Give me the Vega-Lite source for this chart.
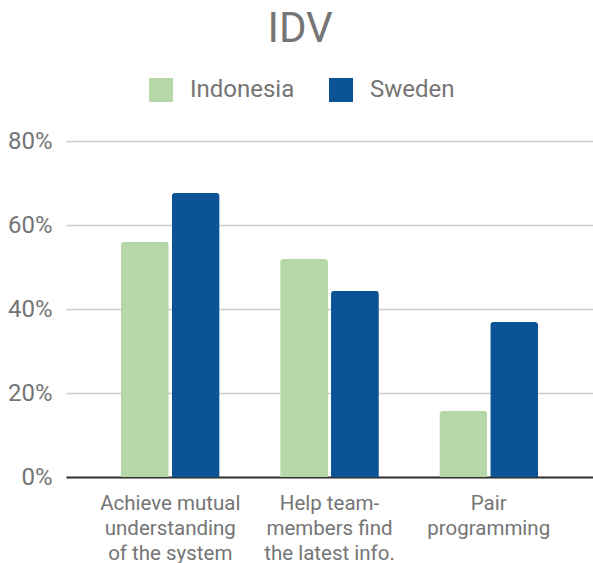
{
  "$schema": "https://vega.github.io/schema/vega-lite/v6.json",
  "width": 527,
  "height": 336,
  "autosize": {"type": "none"},
  "padding": {"left": 66, "top": 141, "right": 0, "bottom": 86},
  "background": "white",
  "title": {
    "text": "IDV",
    "font": "Roboto",
    "fontSize": 42,
    "fontWeight": "normal",
    "color": "#757575",
    "anchor": "middle",
    "frame": "bounds",
    "offset": 27
  },
  "data": {
    "values": [
      {"category": "Achieve mutual|understanding|of the system", "country": "Indonesia", "value": 0.56},
      {"category": "Achieve mutual|understanding|of the system", "country": "Sweden", "value": 0.676},
      {"category": "Help team-|members find|the latest info.", "country": "Indonesia", "value": 0.519},
      {"category": "Help team-|members find|the latest info.", "country": "Sweden", "value": 0.443},
      {"category": "Pair|programming", "country": "Indonesia", "value": 0.157},
      {"category": "Pair|programming", "country": "Sweden", "value": 0.369}
    ]
  },
  "mark": {"type": "bar", "cornerRadiusTopLeft": 3, "cornerRadiusTopRight": 3},
  "encoding": {
    "x": {
      "field": "category",
      "type": "nominal",
      "sort": null,
      "scale": {"paddingInner": 0.38, "paddingOuter": 0.345},
      "axis": {
        "title": null,
        "labelAngle": 0,
        "labelExpr": "split(datum.label, '|')",
        "labelFont": "Roboto",
        "labelFontSize": 20.5,
        "labelLineHeight": 25,
        "labelColor": "#757575",
        "labelPadding": 16,
        "ticks": false,
        "domainColor": "#333333",
        "domainWidth": 2,
        "labelLimit": 300
      }
    },
    "xOffset": {
      "field": "country",
      "type": "nominal",
      "scale": {"paddingInner": 0.06, "paddingOuter": 0}
    },
    "y": {
      "field": "value",
      "type": "quantitative",
      "scale": {"domain": [0, 0.8]},
      "axis": {
        "title": null,
        "format": ".0%",
        "values": [0, 0.2, 0.4, 0.6, 0.8],
        "labelFont": "Roboto",
        "labelFontSize": 24,
        "labelColor": "#757575",
        "labelPadding": 14,
        "ticks": false,
        "domain": false,
        "gridColor": "#cccccc",
        "gridWidth": 1.5
      }
    },
    "color": {
      "field": "country",
      "type": "nominal",
      "scale": {"domain": ["Indonesia", "Sweden"], "range": ["#b6d7a8", "#0b5394"]},
      "legend": {
        "title": null,
        "orient": "none",
        "direction": "horizontal",
        "legendX": 83,
        "legendY": -63,
        "symbolType": "square",
        "symbolSize": 576,
        "symbolStrokeWidth": 0,
        "labelFont": "Roboto",
        "labelFontSize": 24,
        "labelColor": "#757575",
        "labelOffset": 17,
        "columnPadding": 34
      }
    }
  },
  "config": {"view": {"stroke": null}}
}
